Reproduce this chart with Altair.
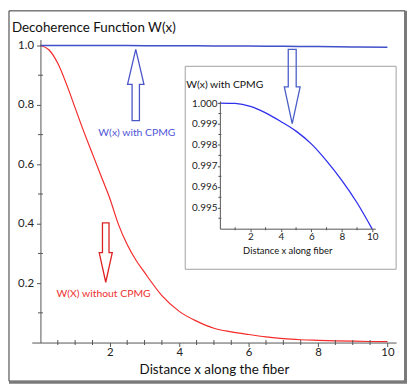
import altair as alt
import pandas as pd

# ---- data ----
red_x = [0, 0.25, 0.5, 0.75, 1.0, 1.25, 1.5, 1.75, 2.0, 2.25, 2.5, 2.75, 3.0, 3.5,
         4.0, 4.5, 5.0, 5.5, 6.0, 6.5, 7.0, 7.5, 8.0, 8.5, 9.0, 9.5, 10.0]
red_w = [1.0, 0.985, 0.94, 0.87, 0.79, 0.71, 0.635, 0.56, 0.485, 0.397, 0.33, 0.278, 0.236, 0.158,
         0.105, 0.072, 0.048, 0.036, 0.027, 0.019, 0.013, 0.0095, 0.0075, 0.0058, 0.0045, 0.0035, 0.003]

cpmg_x = [0, 1, 2, 3, 4, 5, 6, 7, 8, 9, 10]
cpmg_w = [1.0, 0.99998, 0.99984, 0.99953, 0.99912, 0.99866, 0.99805, 0.99724, 0.99631, 0.99524, 0.99398]

main_x_labels = [2, 4, 6, 8, 10]
main_x_minor = [0.5, 1, 1.5, 2.5, 3, 3.5, 4.5, 5, 5.5, 6.5, 7, 7.5, 8.5, 9, 9.5]
main_y_labels = [0.2, 0.4, 0.6, 0.8, 1.0]
main_y_minor = [0.1, 0.3, 0.5, 0.7, 0.9]
inset_x_labels = [2, 4, 6, 8, 10]
inset_x_minor = [1, 3, 5, 7, 9]
inset_y_labels = [0.995, 0.996, 0.997, 0.998, 0.999, 1.0]
inset_y_minor = [0.9945, 0.9955, 0.9965, 0.9975, 0.9985, 0.9995]

title_text = "Decoherence Function W(x)"
xtitle_text = "Distance x along the fiber"
inset_title = "W(x) with CPMG"
inset_xtitle = "Distance x along fiber"
label_with = ["W(x) with CPMG"]
label_with_pos = ([2.78], [0.705])
label_without = ["W(X) without CPMG"]
label_without_pos = ([1.82], [0.163])

FONT = "Lato"
W, H = 368, 306

red_df = pd.DataFrame({"x": red_x, "w": red_w})
cpmg_df = pd.DataFrame({"x": cpmg_x, "w": cpmg_w})
one = pd.DataFrame({"a": [0]})

mx = alt.Scale(domain=[-0.25, 10.25], nice=False, zero=False)
my = alt.Scale(domain=[0, 1.02], nice=False, zero=False)
ix = alt.Scale(domain=[0, 10.2], range=[190, 347], nice=False, zero=False)
iy = alt.Scale(domain=[0.994, 1.0001], range=[191, 62], nice=False, zero=False)

axis_common = dict(grid=False, domainColor="#555555", tickColor="#555555", labelColor="#222222",
                   labelFont=FONT, titleFont=FONT, titleFontWeight="normal", titleColor="#111111",
                   zindex=1)

main_xaxis = alt.Axis(values=main_x_labels, format="d",
                      orient="bottom", tickSize=4, labelFontSize=11.5, labelPadding=0,
                      title=xtitle_text, titleFontSize=13.5, titleY=31, titleBaseline="alphabetic",
                      **axis_common)
main_yaxis = alt.Axis(values=main_y_labels, format=".1f",
                      orient="left", offset=-8.76, tickSize=4, labelFontSize=11.5, labelPadding=3,
                      title=None, **axis_common)
inset_xaxis = alt.Axis(values=inset_x_labels, format="d",
                       orient="bottom", offset=-115, tickSize=3, labelFontSize=10, labelPadding=0,
                       title=inset_xtitle, titleFontSize=9.5, titleX=258, titleY=25,
                       titleBaseline="alphabetic", **axis_common)
inset_yaxis = alt.Axis(values=inset_y_labels, format=".3f",
                       orient="left", offset=-190, tickSize=2.5, labelPadding=0.5, labelFontSize=10,
                       title=None, **axis_common)

# ---- frame ----
frame = alt.Chart(one).mark_rect(fillOpacity=0, stroke="#333333", strokeWidth=1).encode(
    x=alt.value(-23), x2=alt.value(377), y=alt.value(-29), y2=alt.value(345))
frame_r = alt.Chart(one).mark_rule(stroke="#7a7a7a", strokeWidth=3).encode(
    x=alt.value(377.5), y=alt.value(-29), y2=alt.value(346.5))
frame_b = alt.Chart(one).mark_rule(stroke="#7a7a7a", strokeWidth=3).encode(
    x=alt.value(-23), x2=alt.value(379), y=alt.value(346))
title_mark = alt.Chart(one).mark_text(text=title_text, font=FONT, fontSize=13.5, align="left",
                                      baseline="alphabetic", color="#111111").encode(
    x=alt.value(-20), y=alt.value(-8))

# ---- main curves ----
red_line = alt.Chart(red_df).mark_line(color="#f42a2a", strokeWidth=1.2, interpolate="monotone").encode(
    x=alt.X("x:Q", scale=mx, axis=main_xaxis), y=alt.Y("w:Q", scale=my, axis=main_yaxis))
blue_line = alt.Chart(cpmg_df).mark_line(color="#4050c8", strokeWidth=1.5, interpolate="monotone").encode(
    x=alt.X("x:Q", scale=mx), y=alt.Y("w:Q", scale=my))
mx_minor = alt.Chart(pd.DataFrame({"x": main_x_minor, "w": [0] * len(main_x_minor)})).mark_tick(
    orient="vertical", size=5, thickness=1, color="#555555", opacity=1).encode(
    x=alt.X("x:Q", scale=mx), y=alt.Y("w:Q", scale=my))
my_minor = alt.Chart(pd.DataFrame({"x": [0] * len(main_y_minor), "w": main_y_minor})).mark_tick(
    orient="horizontal", size=5, thickness=1, color="#555555", opacity=1).encode(
    x=alt.X("x:Q", scale=mx), y=alt.Y("w:Q", scale=my))
t_with = alt.Chart(pd.DataFrame({"x": label_with_pos[0], "w": label_with_pos[1], "t": label_with})).mark_text(
    font=FONT, fontSize=10.5, color="#5055d8").encode(
    x=alt.X("x:Q", scale=mx), y=alt.Y("w:Q", scale=my), text="t:N")
t_without = alt.Chart(pd.DataFrame({"x": label_without_pos[0], "w": label_without_pos[1], "t": label_without})).mark_text(
    font=FONT, fontSize=10.5, color="#ee3030").encode(
    x=alt.X("x:Q", scale=mx), y=alt.Y("w:Q", scale=my), text="t:N")

main_group = alt.layer(frame, frame_r, frame_b, title_mark, red_line, blue_line,
                       mx_minor, my_minor, t_with, t_without)

# ---- inset ----
box = alt.Chart(one).mark_rect(fill="white", stroke="#a0a0a0", strokeWidth=1).encode(
    x=alt.value(155), x2=alt.value(368), y=alt.value(27), y2=alt.value(232))
inset_line = alt.Chart(cpmg_df).mark_line(color="#2f2fee", strokeWidth=1.3, interpolate="monotone").encode(
    x=alt.X("x:Q", scale=ix, axis=inset_xaxis), y=alt.Y("w:Q", scale=iy, axis=inset_yaxis))
ix_minor = alt.Chart(pd.DataFrame({"x": inset_x_minor, "w": [0.994] * len(inset_x_minor)})).mark_tick(
    orient="vertical", size=3, thickness=1, color="#555555", opacity=1).encode(
    x=alt.X("x:Q", scale=ix), y=alt.Y("w:Q", scale=iy))
iy_minor = alt.Chart(pd.DataFrame({"x": [0] * len(inset_y_minor), "w": inset_y_minor})).mark_tick(
    orient="horizontal", size=3, thickness=1, color="#555555", opacity=1).encode(
    x=alt.X("x:Q", scale=ix), y=alt.Y("w:Q", scale=iy))
inset_t = alt.Chart(one).mark_text(text=inset_title, font=FONT, fontSize=10.5, align="left",
                                   baseline="middle", color="#111111").encode(
    x=alt.value(156), y=alt.value(46))
inset_group = alt.layer(box, inset_line, ix_minor, iy_minor, inset_t)

# ---- hollow arrows (annotations) ----
up_path = "M0,-1 L0.23,-0.02 L0.103,-0.02 L0.103,1 L-0.103,1 L-0.103,-0.02 L-0.23,-0.02 Z"
down_red = "M0,1 L0.22,0 L0.11,0 L0.11,-1 L-0.11,-1 L-0.11,0 L-0.22,0 Z"
down_blue = "M0,1 L0.213,0.01 L0.107,0.01 L0.107,-1 L-0.107,-1 L-0.107,0.01 L-0.213,0.01 Z"
arrow_x = [2.747, 1.882, 7.256]
arrow_w = [0.867, 0.303, 0.8617]

def arrow(i, path, size, color):
    d = pd.DataFrame({"x": [arrow_x[i]], "w": [arrow_w[i]]})
    return alt.Chart(d).mark_point(shape=path, filled=False, stroke=color, strokeWidth=1.3,
                                   opacity=1, size=size).encode(
        x=alt.X("x:Q", scale=mx, axis=None), y=alt.Y("w:Q", scale=my, axis=None))

arrows = alt.layer(arrow(0, up_path, 5184, "#4a55c8"),
                   arrow(1, down_red, 3600, "#dd2222"),
                   arrow(2, down_blue, 5625, "#4a5ec8"))

chart = alt.layer(main_group, inset_group, arrows).resolve_scale(
    x="independent", y="independent").properties(
    width=W, height=H,
    padding={"left": 24, "top": 30, "right": 11, "bottom": 42},
    autosize=alt.AutoSizeParams(type="none"),
).configure_view(stroke=None)

chart.save("out.html", embed_options={"renderer": "svg", "actions": False})
